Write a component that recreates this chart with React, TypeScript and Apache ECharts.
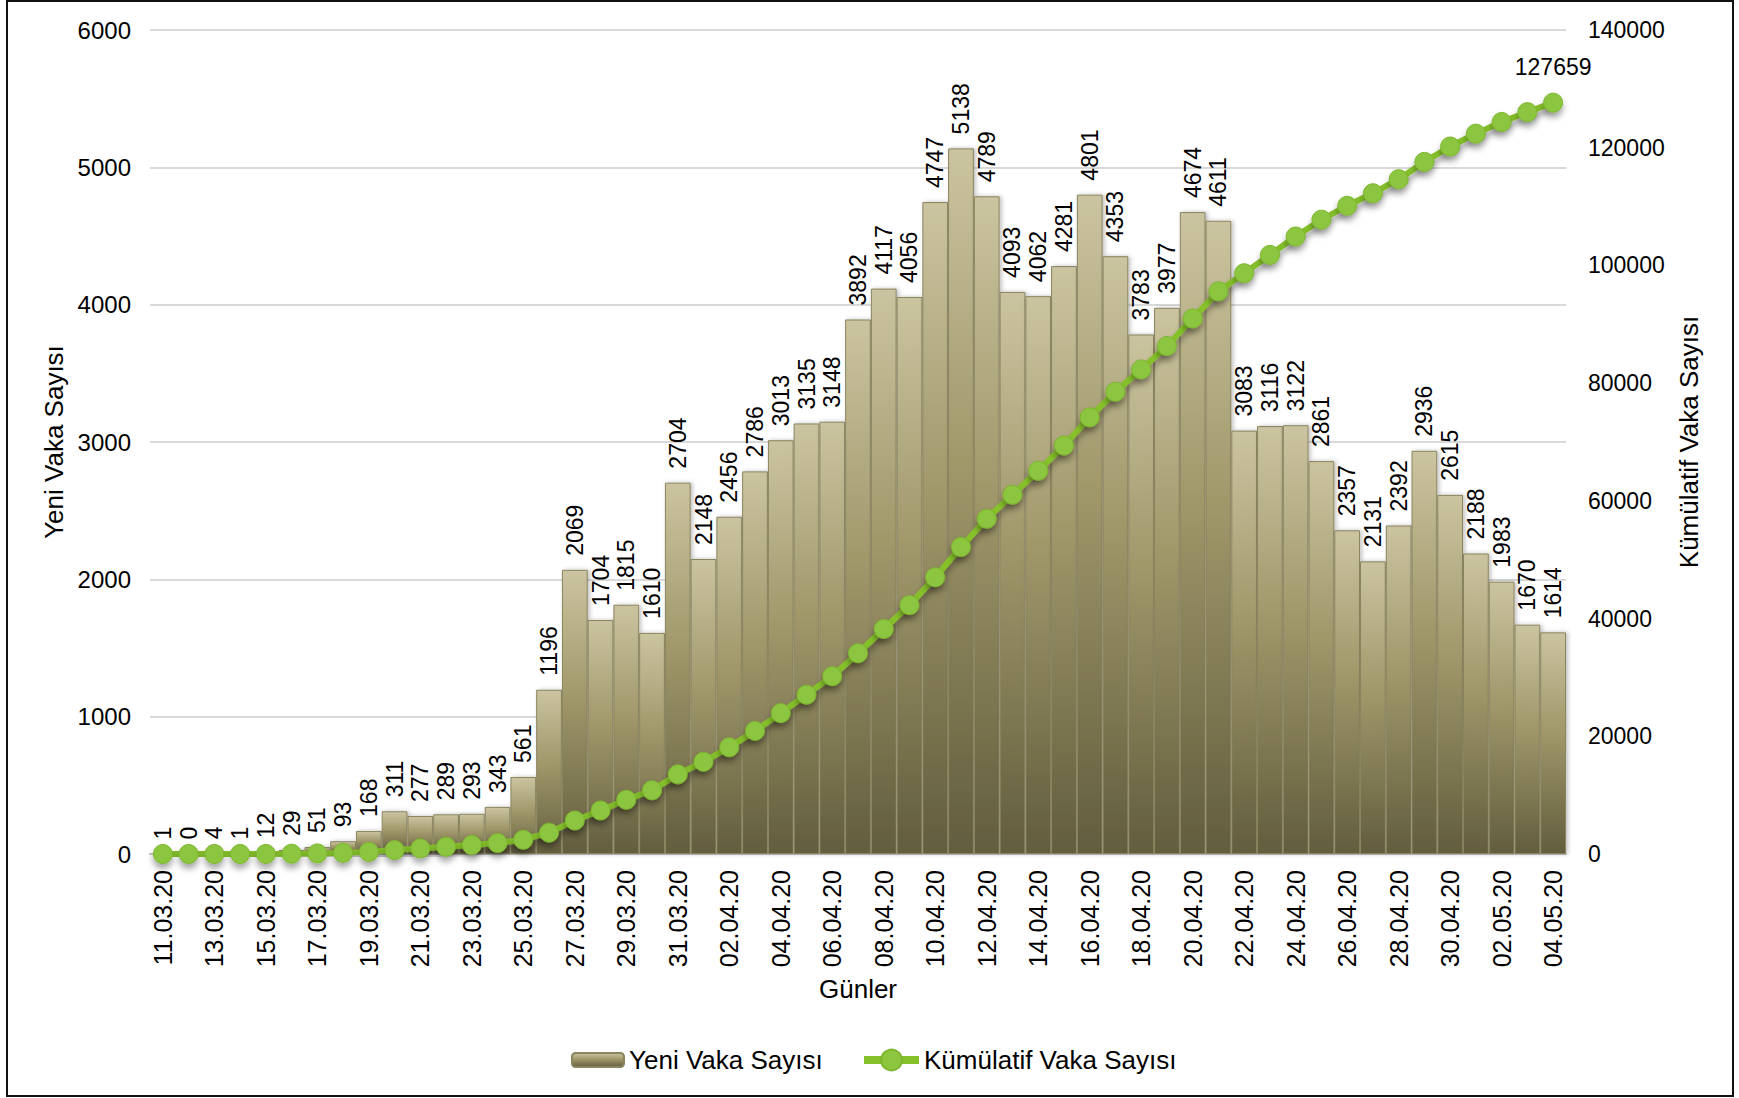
import React, { useEffect, useRef } from "react";
import * as echarts from "echarts";

const dates = [
  "11.03.20", "12.03.20", "13.03.20", "14.03.20", "15.03.20", "16.03.20", "17.03.20",
  "18.03.20", "19.03.20", "20.03.20", "21.03.20", "22.03.20", "23.03.20", "24.03.20",
  "25.03.20", "26.03.20", "27.03.20", "28.03.20", "29.03.20", "30.03.20", "31.03.20",
  "01.04.20", "02.04.20", "03.04.20", "04.04.20", "05.04.20", "06.04.20", "07.04.20",
  "08.04.20", "09.04.20", "10.04.20", "11.04.20", "12.04.20", "13.04.20", "14.04.20",
  "15.04.20", "16.04.20", "17.04.20", "18.04.20", "19.04.20", "20.04.20", "21.04.20",
  "22.04.20", "23.04.20", "24.04.20", "25.04.20", "26.04.20", "27.04.20", "28.04.20",
  "29.04.20", "30.04.20", "01.05.20", "02.05.20", "03.05.20", "04.05.20",
];

const newCases = [
  1, 0, 4, 1, 12, 29, 51, 93, 168, 311, 277, 289, 293, 343, 561, 1196, 2069, 1704,
  1815, 1610, 2704, 2148, 2456, 2786, 3013, 3135, 3148, 3892, 4117, 4056, 4747, 5138,
  4789, 4093, 4062, 4281, 4801, 4353, 3783, 3977, 4674, 4611, 3083, 3116, 3122, 2861,
  2357, 2131, 2392, 2936, 2615, 2188, 1983, 1670, 1614,
];

const cumulativeCases = [
  1, 1, 5, 6, 18, 47, 98, 191, 359, 670, 947, 1236, 1529, 1872, 2433, 3629, 5698,
  7402, 9217, 10827, 13531, 15679, 18135, 20921, 23934, 27069, 30217, 34109, 38226,
  42282, 47029, 52167, 56956, 61049, 65111, 69392, 74193, 78546, 82329, 86306, 90980,
  95591, 98674, 101790, 104912, 107773, 110130, 112261, 114653, 117589, 120204,
  122392, 124375, 126045, 127659,
];

const FONT = "'Liberation Sans', Arial, sans-serif";

export default function App() {
  const ref = useRef<HTMLDivElement>(null);

  useEffect(() => {
    if (!ref.current) return;
    const chart = echarts.init(ref.current, null, { renderer: "svg" });
    const barGradient = new echarts.graphic.LinearGradient(0, 0, 0, 1, [
      { offset: 0, color: "#cbc4a0" },
      { offset: 0.45, color: "#a0976a" },
      { offset: 1, color: "#625d3e" },
    ]);
    const lastIdx = cumulativeCases.length - 1;
    const plain = (v: number) => String(v);
    chart.setOption({
      animation: false,
      backgroundColor: "#ffffff",
      textStyle: { fontFamily: FONT, color: "#000" },
      graphic: [
        {
          type: "rect",
          shape: { x: 7, y: 1, width: 1726, height: 1095 },
          style: { fill: "none", stroke: "#111", lineWidth: 2 },
          silent: true,
          z: 100,
        },
      ],
      grid: { left: 150, right: 173, top: 30, bottom: 244, containLabel: false },
      legend: [
        {
          top: 1042,
          left: 566,
          itemWidth: 52,
          itemHeight: 14,
          textStyle: { fontSize: 26, fontFamily: FONT, color: "#000" },
          data: [{ name: "Yeni Vaka Sayısı" }],
        },
        {
          top: 1042,
          left: 855,
          itemWidth: 55,
          itemHeight: 26,
          textStyle: { fontSize: 26, fontFamily: FONT, color: "#000" },
          data: [
            {
              name: "Kümülatif Vaka Sayısı",
              lineStyle: { width: 8, shadowBlur: 0, shadowOffsetY: 0 },
            },
          ],
        },
      ],
      xAxis: {
        type: "category",
        data: dates,
        name: "Günler",
        nameLocation: "middle",
        nameGap: 122,
        nameTextStyle: { fontSize: 26, fontFamily: FONT, color: "#000" },
        axisLine: { lineStyle: { color: "#c0c0c0", width: 2 } },
        axisTick: { show: false },
        axisLabel: {
          interval: 1,
          rotate: 90,
          fontSize: 25,
          margin: 16,
          color: "#000",
          fontFamily: FONT,
        },
      },
      yAxis: [
        {
          type: "value",
          min: 0,
          max: 6000,
          interval: 1000,
          name: "Yeni Vaka Sayısı",
          nameLocation: "middle",
          nameGap: 83,
          nameTextStyle: { fontSize: 26, fontFamily: FONT, color: "#000" },
          axisLine: { show: false },
          axisTick: { show: false },
          axisLabel: {
            fontSize: 24,
            margin: 19,
            color: "#000",
            fontFamily: FONT,
            formatter: plain,
          },
          splitLine: { lineStyle: { color: "#d9d9d9", width: 2 } },
        },
        {
          type: "value",
          min: 0,
          max: 140000,
          interval: 20000,
          name: "Kümülatif Vaka Sayısı",
          nameLocation: "middle",
          nameGap: 109,
          nameTextStyle: { fontSize: 26, fontFamily: FONT, color: "#000" },
          axisLine: { show: false },
          axisTick: { show: false },
          axisLabel: {
            fontSize: 23,
            margin: 22,
            color: "#000",
            fontFamily: FONT,
            formatter: plain,
          },
          splitLine: { show: false },
        },
      ],
      series: [
        {
          name: "Yeni Vaka Sayısı",
          type: "bar",
          yAxisIndex: 0,
          data: newCases,
          barCategoryGap: "0%",
          itemStyle: {
            color: barGradient,
            borderColor: "#8a845f",
            borderWidth: 1,
            shadowColor: "rgba(0,0,0,0.25)",
            shadowBlur: 4,
            shadowOffsetX: 2,
          },
          label: {
            show: true,
            position: "top",
            rotate: 90,
            align: "left",
            verticalAlign: "middle",
            distance: 14,
            fontSize: 23,
            color: "#000",
            fontFamily: FONT,
          },
          z: 2,
        },
        {
          name: "Kümülatif Vaka Sayısı",
          type: "line",
          yAxisIndex: 1,
          data: cumulativeCases.map((v, i) =>
            i === lastIdx
              ? {
                  value: v,
                  label: {
                    show: true,
                    position: "top",
                    distance: 14,
                    fontSize: 23,
                    color: "#000",
                    fontFamily: FONT,
                  },
                }
              : v
          ),
          symbol: "circle",
          symbolSize: 19,
          showAllSymbol: true,
          lineStyle: {
            color: "#86c12c",
            width: 6,
            shadowColor: "rgba(0,0,0,0.35)",
            shadowBlur: 6,
            shadowOffsetY: 5,
          },
          itemStyle: {
            color: "#8cc63f",
            borderColor: "#7db52e",
            borderWidth: 1,
            shadowColor: "rgba(0,0,0,0.35)",
            shadowBlur: 6,
            shadowOffsetY: 5,
          },
          label: { show: false },
          z: 5,
        },
      ],
    });
    return () => chart.dispose();
  }, []);

  return (
    <div
      ref={ref}
      style={{ position: "fixed", left: 0, top: 0, width: 1739, height: 1098 }}
    />
  );
}
